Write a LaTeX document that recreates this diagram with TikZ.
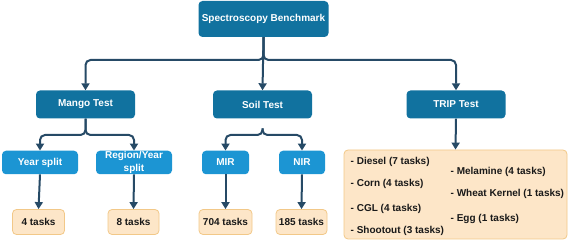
\documentclass[tikz,border=0pt]{standalone}
\usepackage{fontspec}
\setmainfont{Liberation Sans}
\usetikzlibrary{arrows.meta}
\definecolor{topblue}{HTML}{11729F}
\definecolor{midblue}{HTML}{1C95D3}
\definecolor{leaffill}{HTML}{FDE6C8}
\definecolor{leafdraw}{HTML}{F2C888}
\definecolor{linec}{HTML}{264A66}
\tikzset{
  topbox/.style={fill=topblue, rounded corners=4pt, text=white, font=\fontsize{10}{12}\selectfont\bfseries, inner sep=0pt, align=center},
  midbox/.style={fill=midblue, rounded corners=4pt, text=white, font=\fontsize{10}{12.6}\selectfont\bfseries, inner sep=0pt, align=center, minimum height=23.5pt},
  leafbox/.style={fill=leaffill, draw=leafdraw, line width=0.8pt, rounded corners=4pt, text=black!90, font=\fontsize{10}{12}\selectfont\bfseries, inner sep=0pt, minimum height=25pt},
  item/.style={anchor=west, inner sep=0pt, text=black!90, font=\fontsize{10}{12}\selectfont\bfseries},
  conn/.style={draw=linec, line width=2pt, rounded corners=5pt, -{Triangle[width=8pt,length=7pt]}},
}
\begin{document}
\begin{tikzpicture}[x=1pt,y=-1pt]
\useasboundingbox (0,0) rectangle (568,240);
% top level
\node[topbox, minimum width=130pt, minimum height=36pt] (root) at (263.5,19) {Spectroscopy Benchmark};
\node[topbox, minimum width=99pt, minimum height=28pt] (mango) at (85.5,104.5) {Mango Test};
\node[topbox, minimum width=99pt, minimum height=28pt] (soil) at (262.5,104.5) {Soil Test};
\node[topbox, minimum width=99pt, minimum height=28pt] (trip) at (456,104.5) {TRIP Test};
% mid level
\node[midbox, minimum width=76pt] (year) at (40,162.5) {Year split};
\node[midbox, minimum width=76pt] (region) at (134,162.5) {Region/Year\\split};
\node[midbox, minimum width=47pt] (mir) at (225.5,162.5) {MIR};
\node[midbox, minimum width=46pt] (nir) at (302,162.5) {NIR};
% leaves
\node[leafbox, minimum width=52pt] (t4) at (38.5,222) {4 tasks};
\node[leafbox, minimum width=51pt] (t8) at (133.5,222) {8 tasks};
\node[leafbox, minimum width=53pt] (t704) at (225.5,222) {704 tasks};
\node[leafbox, minimum width=51pt] (t185) at (301.5,222) {185 tasks};
\node[leafbox, minimum width=223pt, minimum height=89pt] (list) at (455.5,194.5) {};
\node[item] (diesel) at (350.5,161.7) {- Diesel (7 tasks)};
\node[item] (corn) at (350.5,184) {- Corn (4 tasks)};
\node[item] (cgl) at (350.5,208.7) {- CGL (4 tasks)};
\node[item] (shoot) at (350.5,231) {- Shootout (3 tasks)};
\node[item] (melamine) at (450.5,171.7) {- Melamine (4 tasks)};
\node[item] (wheat) at (450.5,194) {- Wheat Kernel (1 tasks)};
\node[item] (egg) at (450.5,219) {- Egg (1 tasks)};
% connectors
\coordinate (soilstart) at (262.5,128.5);
\draw[conn] (root.south) -- (263.5,60) -| (mango.north);
\draw[conn] (root.south) -- (263.5,60) -| (trip.north);
\draw[conn] (root.south) -- (soil.north);
\draw[conn] (mango.south) -- (85.5,135) -| (year.north);
\draw[conn] (mango.south) -- (85.5,135) -| (region.north);
\draw[conn] (soilstart) -- (262.5,135) -| (mir.north);
\draw[conn] (soilstart) -- (262.5,135) -| (nir.north);
\draw[conn] (trip.south) -- (list.north);
\draw[conn] (year.south) -- (t4.north);
\draw[conn] (region.south) -- (t8.north);
\draw[conn] (mir.south) -- (t704.north);
\draw[conn] (nir.south) -- (t185.north);
\end{tikzpicture}
\end{document}
